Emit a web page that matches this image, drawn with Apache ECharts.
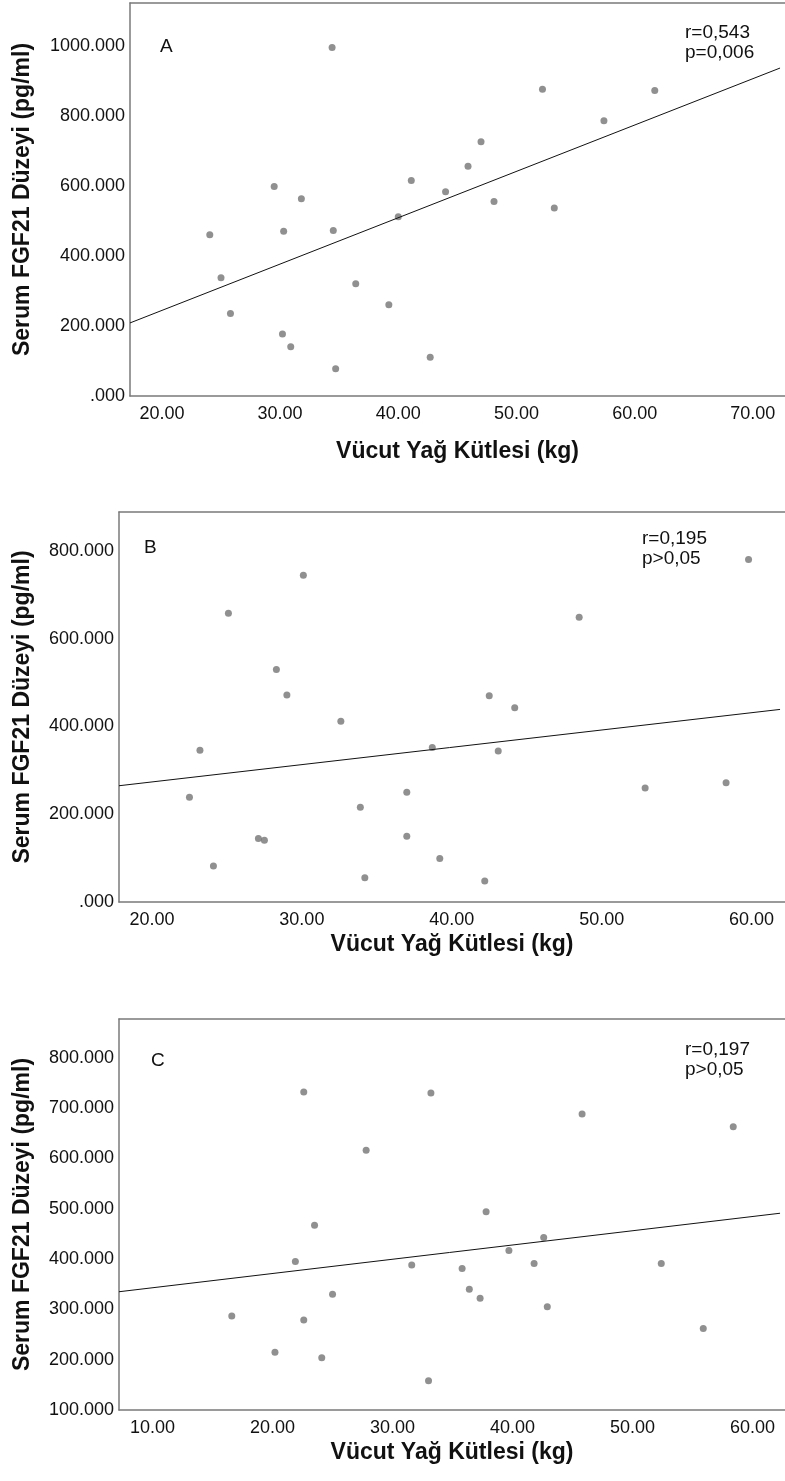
<!DOCTYPE html>
<html>
<head>
<meta charset="utf-8">
<script src="https://cdn.jsdelivr.net/npm/echarts@6/dist/echarts.min.js"></script>
<style>
  html, body { margin: 0; padding: 0; background: #fff; }
  #main { width: 785px; height: 1481px; }
</style>
</head>
<body>
<div id="main"></div>
<script>
// panel A
var aX = [34.4, 29.5, 31.8, 24.05, 30.3, 34.5, 25.0, 25.8, 36.4, 39.2, 30.2, 30.9, 34.7, 40.0,
          52.2, 61.7, 57.4, 47.0, 45.9, 41.1, 44.0, 48.1, 53.2, 42.7];
var aY = [997, 599, 564, 461, 471, 473, 338, 236, 321, 261, 177, 141, 78, 513,
          877, 874, 787, 727, 657, 616, 584, 556, 538, 111];
var aFitX = [17.3, 72.3];
var aFitY = [209, 938];
var aXTicks = [20, 30, 40, 50, 60, 70];
var aYTicks = [0, 200, 400, 600, 800, 1000];

// panel B
var bX = [30.1, 25.1, 28.3, 29.0, 32.6, 23.2, 22.5, 33.9, 27.1, 27.5, 24.1, 34.2,
          59.8, 48.5, 42.5, 44.2, 38.7, 43.1, 37.0, 52.9, 58.3, 37.0, 39.2, 42.2];
var bY = [745, 658, 530, 472, 412, 346, 239, 216, 145, 141, 82, 55,
          781, 649, 470, 443, 352, 344, 250, 260, 272, 150, 99, 48];
var bFitX = [17.8, 61.9];
var bFitY = [265, 439];
var bXTicks = [20, 30, 40, 50, 60];
var bYTicks = [0, 200, 400, 600, 800];

// panel C
var cX = [22.6, 27.8, 23.5, 21.9, 25.0, 16.6, 22.6, 20.2, 24.1,
          33.2, 45.8, 58.4, 37.8, 42.6, 39.7, 31.6, 35.8, 41.8, 52.4, 36.4, 37.3, 42.9, 55.9, 33.0];
var cY = [732, 616, 467, 395, 330, 287, 279, 215, 204,
          730, 688, 663, 494, 443, 417, 388, 381, 391, 391, 340, 322, 305, 262, 158];
var cFitX = [7.2, 62.3];
var cFitY = [335, 491];
var cXTicks = [10, 20, 30, 40, 50, 60];
var cYTicks = [100, 200, 300, 400, 500, 600, 700, 800];

var labels = ['A', 'B', 'C'];
var stats = ['r=0,543\np=0,006', 'r=0,195\np>0,05', 'r=0,197\np>0,05'];

var FONT = '"Liberation Sans", Arial, sans-serif';
var axisGray = '#7a7a7a';
var dotGray = '#747474';

var panels = [
    { x: aX, y: aY, fx: aFitX, fy: aFitY, xt: aXTicks, yt: aYTicks,
      xr: [17.3, 72.3], yr: [0, 1124],
      grid: { left: 130, top: 3, width: 660, height: 393 }, yGap: 96, xGap: 44,
      letter: [160, 47], stat: [685, 23] },
    { x: bX, y: bY, fx: bFitX, fy: bFitY, xt: bXTicks, yt: bYTicks,
      xr: [17.8, 61.9], yr: [0, 889],
      grid: { left: 119, top: 512, width: 671, height: 390 }, yGap: 85, xGap: 31,
      letter: [144, 548], stat: [642, 529] },
    { x: cX, y: cY, fx: cFitX, fy: cFitY, xt: cXTicks, yt: cYTicks,
      xr: [7.2, 62.3], yr: [100, 877],
      grid: { left: 119, top: 1019, width: 671, height: 391 }, yGap: 85, xGap: 31,
      letter: [151, 1061], stat: [685, 1040] }
];

var grids = [], xAxes = [], yAxes = [], series = [], graphics = [];

panels.forEach(function (p, i) {
    // keep the right border off-canvas (reference has no right edge)
    var right = p.xr[1] + (p.xr[1] - p.xr[0]) * 5 / (785 - p.grid.left);
    grids.push(p.grid);
    xAxes.push({
        gridIndex: i, type: 'value', min: p.xr[0], max: right,
        name: 'Vücut Yağ Kütlesi (kg)', nameLocation: 'middle', nameGap: p.xGap,
        nameTextStyle: { fontFamily: FONT, fontSize: 23, fontWeight: 'bold', color: '#111' },
        axisLine: { show: true, lineStyle: { color: axisGray, width: 1.5 } },
        axisTick: { show: false },
        splitLine: { show: false },
        axisLabel: {
            customValues: p.xt, margin: 9,
            fontFamily: FONT, fontSize: 18, color: '#111',
            formatter: function (v) { return v.toFixed(2); }
        }
    });
    xAxes.push({
        gridIndex: i, type: 'value', position: 'top', min: p.xr[0], max: right,
        axisLine: { show: true, onZero: false, lineStyle: { color: axisGray, width: 1.5 } },
        axisTick: { show: false }, axisLabel: { show: false }, splitLine: { show: false }
    });
    yAxes.push({
        gridIndex: i, type: 'value', min: p.yr[0], max: p.yr[1],
        name: 'Serum FGF21 Düzeyi (pg/ml)', nameLocation: 'middle', nameGap: p.yGap,
        nameTextStyle: { fontFamily: FONT, fontSize: 23, fontWeight: 'bold', color: '#111' },
        axisLine: { show: true, onZero: false, lineStyle: { color: axisGray, width: 1.5 } },
        axisTick: { show: false },
        splitLine: { show: false },
        axisLabel: {
            customValues: p.yt, margin: 5,
            fontFamily: FONT, fontSize: 18, color: '#111',
            formatter: function (v) { return v === 0 ? '.000' : v.toFixed(3); }
        }
    });

    var pts = p.x.map(function (xv, k) { return [xv, p.y[k]]; });
    series.push({
        type: 'scatter', xAxisIndex: i * 2, yAxisIndex: i,
        data: pts, symbolSize: 7,
        itemStyle: { color: dotGray }, silent: true
    });
    series.push({
        type: 'line', xAxisIndex: i * 2, yAxisIndex: i,
        data: p.fx.map(function (xv, k) { return [xv, p.fy[k]]; }),
        showSymbol: false, symbol: 'none', silent: true,
        lineStyle: { color: '#111', width: 1 }
    });

    graphics.push({
        type: 'text', x: p.letter[0], y: p.letter[1],
        style: { text: labels[i], font: '19px ' + FONT, fill: '#111', verticalAlign: 'middle' }
    });
    graphics.push({
        type: 'text', x: p.stat[0], y: p.stat[1],
        style: { text: stats[i], font: '19px ' + FONT, fill: '#111', lineHeight: 20 }
    });
});

var chart = echarts.init(document.getElementById('main'));
chart.setOption({
    animation: false,
    backgroundColor: '#fff',
    grid: grids,
    xAxis: xAxes,
    yAxis: yAxes,
    series: series,
    graphic: graphics
});
</script>
</body>
</html>
